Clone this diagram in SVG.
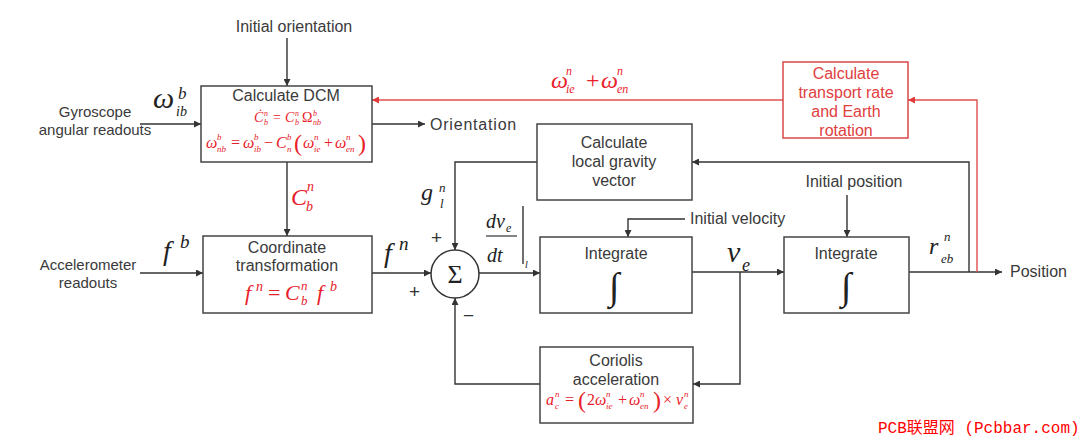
<svg xmlns="http://www.w3.org/2000/svg" width="1080" height="440" viewBox="0 0 1080 440">
<defs>
<marker id="ah" viewBox="0 0 10 10" refX="10" refY="5" markerWidth="9" markerHeight="7" markerUnits="userSpaceOnUse" orient="auto"><path d="M0,0 L10,5 L0,10 z" fill="#333"/></marker>
<marker id="ahr" viewBox="0 0 10 10" refX="10" refY="5" markerWidth="9" markerHeight="7" markerUnits="userSpaceOnUse" orient="auto"><path d="M0,0 L10,5 L0,10 z" fill="#e03a3a"/></marker>
</defs>
<style>
.box{fill:#fff;stroke:#444;stroke-width:1.5}
.rbox{fill:#fff;stroke:#d84848;stroke-width:1.5}
.t{font-family:"Liberation Sans",Arial,sans-serif;font-size:16px;fill:#3a3a3a;text-anchor:middle}
.ts{font-family:"Liberation Sans",Arial,sans-serif;font-size:15px;fill:#3a3a3a;text-anchor:middle}
.tl{font-family:"Liberation Sans",Arial,sans-serif;font-size:16px;fill:#3a3a3a}
.sg{font-family:"Liberation Sans",Arial,sans-serif;font-size:19px;fill:#333}
.rt{font-family:"Liberation Sans",Arial,sans-serif;font-size:16px;fill:#e04040;text-anchor:middle}
.m{font-family:"Liberation Serif","Times New Roman",serif;font-style:italic;fill:#222}
.mr{font-family:"Liberation Serif","Times New Roman",serif;font-style:italic;fill:#e8202a}
.n{font-style:normal}
.c{fill:none;stroke:#333;stroke-width:1.4}
.cr{fill:none;stroke:#e05050;stroke-width:1.4}
</style>
<rect width="1080" height="440" fill="#fff"/>

<g id="connectors">
<path class="c" d="M287,38 V86" marker-end="url(#ah)"/>
<path class="c" d="M140,124 H201" marker-end="url(#ah)"/>
<path class="c" d="M372,124 H425" marker-end="url(#ah)"/>
<path class="cr" d="M783,100 H372" marker-end="url(#ahr)"/>
<path class="c" d="M287,162 V236" marker-end="url(#ah)"/>
<path class="c" d="M140,273 H203" marker-end="url(#ah)"/>
<path class="c" d="M372,273 H431" marker-end="url(#ah)"/>
<path class="c" d="M537,162 H455 V250" marker-end="url(#ah)"/>
<path class="c" d="M479,273 H540" marker-end="url(#ah)"/>
<path class="c" d="M685,219 H628 V237" marker-end="url(#ah)"/>
<path class="c" d="M692,272 H784" marker-end="url(#ah)"/>
<path class="c" d="M740,272 V384 H693" marker-end="url(#ah)"/>
<path class="c" d="M540,384 H455 V298" marker-end="url(#ah)"/>
<path class="c" d="M847,195 V237" marker-end="url(#ah)"/>
<path class="c" d="M909,272 H1002" marker-end="url(#ah)"/>
<path class="c" d="M969,272 V162 H692" marker-end="url(#ah)"/>
<path class="cr" d="M977,272 V100 H908" marker-end="url(#ahr)"/>
</g>

<g id="inputs">
<text class="t" x="294" y="32">Initial orientation</text>
<text class="ts" x="95" y="117">Gyroscope</text>
<text class="ts" x="95" y="135">angular readouts</text>
<text class="tl" x="430" y="130" style="letter-spacing:0.8px">Orientation</text>
<text class="ts" x="88" y="270">Accelerometer</text>
<text class="ts" x="88" y="288">readouts</text>
<text class="tl" x="690" y="224">Initial velocity</text>
<text class="t" x="854" y="187">Initial position</text>
<text class="tl" x="1010" y="277">Position</text>
</g>

<g id="labels">
<text class="m" x="153" y="108" font-size="30">ω</text>
<text class="m" x="178" y="99" font-size="17">b</text>
<text class="m" x="176" y="116" font-size="14">ib</text>
<text class="m" x="163" y="260" font-size="28">f</text>
<text class="m" x="180" y="248" font-size="19">b</text>
<text class="mr" x="291" y="205" font-size="24">C</text>
<text class="mr" x="307" y="191" font-size="14">n</text>
<text class="mr" x="306" y="211" font-size="14">b</text>
<text class="m" x="384" y="262" font-size="28">f</text>
<text class="m" x="399" y="250" font-size="19">n</text>
<text class="sg" x="409" y="298">+</text>
<text class="m" x="421" y="200" font-size="24">g</text>
<text class="m" x="439" y="192" font-size="13">n</text>
<text class="m" x="440" y="208" font-size="13">l</text>
<text class="sg" x="431" y="244">+</text>
<text class="sg" x="463" y="322">−</text>
<text class="m" x="486" y="228" font-size="20">dv</text>
<text class="m" x="506" y="232" font-size="12">e</text>
<line x1="486" y1="236" x2="517" y2="236" stroke="#333" stroke-width="1.2"/>
<text class="m" x="487" y="262" font-size="20">dt</text>
<line x1="523" y1="206" x2="523" y2="264" stroke="#333" stroke-width="1.4"/>
<text class="m" x="525" y="268" font-size="10">l</text>
<text class="m" x="727" y="262" font-size="30">v</text>
<text class="m" x="742" y="271" font-size="18">e</text>
<text class="m" x="929" y="254" font-size="24">r</text>
<text class="m" x="944" y="241" font-size="13">n</text>
<text class="m" x="941" y="263" font-size="13">eb</text>
<text class="mr" x="551" y="88" font-size="24">ω</text>
<text class="mr" x="566" y="75" font-size="12">n</text>
<text class="mr" x="566" y="93" font-size="12">ie</text>
<text class="mr n" x="586" y="88" font-size="24">+</text>
<text class="mr" x="601" y="88" font-size="24">ω</text>
<text class="mr" x="617" y="75" font-size="12">n</text>
<text class="mr" x="617" y="93" font-size="12">en</text>
</g>

<g id="dcm">
<rect class="box" x="201" y="86" width="171" height="76"/>
<text class="t" x="286" y="101">Calculate DCM</text>
<text class="mr" x="254" y="122" font-size="14">Ċ</text>
<text class="mr" x="264" y="116" font-size="8">n</text>
<text class="mr" x="264" y="125" font-size="8">b</text>
<text class="mr n" x="273" y="122" font-size="14">=</text>
<text class="mr" x="285" y="122" font-size="14">C</text>
<text class="mr" x="295" y="116" font-size="8">n</text>
<text class="mr" x="295" y="125" font-size="8">b</text>
<text class="mr n" x="302" y="122" font-size="14">Ω</text>
<text class="mr" x="313" y="116" font-size="8">b</text>
<text class="mr" x="313" y="125" font-size="8">nb</text>
<text class="mr" x="206" y="148" font-size="16">ω</text>
<text class="mr" x="217" y="140" font-size="9">b</text>
<text class="mr" x="217" y="152" font-size="9">nb</text>
<text class="mr n" x="231" y="148" font-size="16">=</text>
<text class="mr" x="243" y="148" font-size="16">ω</text>
<text class="mr" x="254" y="140" font-size="9">b</text>
<text class="mr" x="254" y="152" font-size="9">ib</text>
<text class="mr n" x="264" y="148" font-size="16">−</text>
<text class="mr" x="276" y="148" font-size="16">C</text>
<text class="mr" x="287" y="140" font-size="9">b</text>
<text class="mr" x="287" y="152" font-size="9">n</text>
<text class="mr n" x="294" y="151" font-size="24">(</text>
<text class="mr" x="303" y="148" font-size="16">ω</text>
<text class="mr" x="314" y="140" font-size="9">n</text>
<text class="mr" x="314" y="152" font-size="9">ie</text>
<text class="mr n" x="324" y="148" font-size="16">+</text>
<text class="mr" x="335" y="148" font-size="16">ω</text>
<text class="mr" x="346" y="140" font-size="9">n</text>
<text class="mr" x="346" y="152" font-size="9">en</text>
<text class="mr n" x="358" y="151" font-size="24">)</text>
</g>

<g id="coord">
<rect class="box" x="203" y="236" width="169" height="77"/>
<text class="t" x="287" y="253">Coordinate</text>
<text class="t" x="287" y="271">transformation</text>
<text class="mr" x="245" y="300" font-size="22">f</text>
<text class="mr" x="256" y="291" font-size="14">n</text>
<text class="mr n" x="268" y="300" font-size="22">=</text>
<text class="mr" x="285" y="300" font-size="22">C</text>
<text class="mr" x="301" y="290" font-size="13">n</text>
<text class="mr" x="301" y="305" font-size="13">b</text>
<text class="mr" x="317" y="300" font-size="22">f</text>
<text class="mr" x="330" y="291" font-size="14">b</text>
</g>

<g id="sum">
<circle cx="455" cy="274" r="24" fill="#fff" stroke="#333" stroke-width="1.5"/>
<text x="455" y="283" font-family="Liberation Serif,serif" font-size="26" fill="#222" text-anchor="middle">Σ</text>
</g>

<g id="gravity">
<rect class="box" x="537" y="124" width="155" height="76"/>
<text class="t" x="614" y="148">Calculate</text>
<text class="t" x="614" y="167">local gravity</text>
<text class="t" x="614" y="186">vector</text>
</g>

<g id="integrate1">
<rect class="box" x="540" y="237" width="152" height="76"/>
<text class="t" x="616" y="259">Integrate</text>
<text x="614" y="299" font-family="Liberation Serif,serif" font-size="38" fill="#222" text-anchor="middle">∫</text>
</g>

<g id="integrate2">
<rect class="box" x="784" y="237" width="125" height="76"/>
<text class="t" x="846" y="259">Integrate</text>
<text x="846" y="299" font-family="Liberation Serif,serif" font-size="38" fill="#222" text-anchor="middle">∫</text>
</g>

<g id="coriolis">
<rect class="box" x="540" y="347" width="153" height="76"/>
<text class="t" x="616" y="366">Coriolis</text>
<text class="t" x="616" y="385">acceleration</text>
<text class="mr" x="546" y="405" font-size="16">a</text>
<text class="mr" x="555" y="397" font-size="9">n</text>
<text class="mr" x="555" y="409" font-size="9">c</text>
<text class="mr n" x="565" y="405" font-size="16">=</text>
<text class="mr n" x="578" y="408" font-size="24">(</text>
<text class="mr n" x="587" y="405" font-size="16">2</text>
<text class="mr" x="595" y="405" font-size="16">ω</text>
<text class="mr" x="606" y="397" font-size="9">n</text>
<text class="mr" x="606" y="409" font-size="9">ie</text>
<text class="mr n" x="618" y="405" font-size="16">+</text>
<text class="mr" x="629" y="405" font-size="16">ω</text>
<text class="mr" x="640" y="397" font-size="9">n</text>
<text class="mr" x="640" y="409" font-size="9">en</text>
<text class="mr n" x="653" y="408" font-size="24">)</text>
<text class="mr n" x="663" y="405" font-size="16">×</text>
<text class="mr" x="676" y="405" font-size="16">v</text>
<text class="mr" x="684" y="397" font-size="9">n</text>
<text class="mr" x="684" y="409" font-size="9">e</text>
</g>

<g id="transport">
<rect class="rbox" x="783" y="62" width="125" height="76"/>
<text class="rt" x="846" y="79">Calculate</text>
<text class="rt" x="846" y="98">transport rate</text>
<text class="rt" x="846" y="117">and Earth</text>
<text class="rt" x="846" y="136">rotation</text>
</g>

<g id="watermark">
<text x="878" y="433" font-family="'Liberation Mono','Noto Sans CJK SC',monospace" font-size="16" fill="#ff0000">PCB联盟网 (Pcbbar.com)</text>
</g>
</svg>
